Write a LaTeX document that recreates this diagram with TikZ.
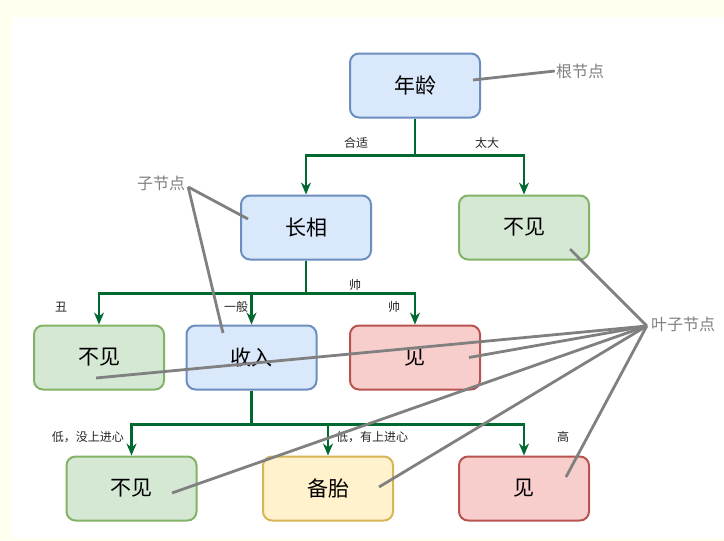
\documentclass[tikz,border=0pt]{standalone}
\usepackage{fontspec}
\setmainfont{Noto Sans CJK SC}
\usepackage{tikz}
\usetikzlibrary{arrows.meta, calc}

\definecolor{bluefill}{HTML}{DAE8FC}
\definecolor{bluedraw}{HTML}{6C8EBF}
\definecolor{greenfill}{HTML}{D5E8D4}
\definecolor{greendraw}{HTML}{82B366}
\definecolor{redfill}{HTML}{F8CECC}
\definecolor{reddraw}{HTML}{B85450}
\definecolor{yellowfill}{HTML}{FFF2CC}
\definecolor{yellowdraw}{HTML}{D6B656}
\definecolor{edgegreen}{HTML}{00692F}
\definecolor{notegray}{HTML}{808080}
\definecolor{cream}{HTML}{FFFFF0}

\tikzset{
    box/.style={draw, line width=2pt, rounded corners=9pt, minimum width=130pt,
        minimum height=64pt, font=\fontsize{21}{24}\selectfont},
    inner/.style={box, fill=bluefill, draw=bluedraw},
    leafno/.style={box, fill=greenfill, draw=greendraw},
    leafyes/.style={box, fill=redfill, draw=reddraw},
    leafmaybe/.style={box, fill=yellowfill, draw=yellowdraw},
    edge/.style={draw=edgegreen, line width=2.2pt,
        -{Stealth[length=12pt, width=10pt, fill=edgegreen]}},
    cond/.style={font=\fontsize{12}{14}\selectfont, text=black!85},
    note/.style={font=\fontsize{16}{18}\selectfont, text=notegray, inner sep=1pt},
    pointer/.style={draw=notegray, line width=2.8pt}
}

\begin{document}
\begin{tikzpicture}[x=1pt, y=-1pt]
    % Page and canvas
    \fill[cream] (0, 0) rectangle (724, 541);
    \fill[white] (12, 17) rectangle (724, 538);
    \useasboundingbox (0, 0) rectangle (724, 541);

    % Tree nodes
    \node[inner] (age) at (415, 85.5) {年龄};
    \node[inner] (look) at (306, 227.5) {长相};
    \node[leafno] (noA) at (524, 227.5) {不见};
    \node[leafno] (noB) at (99, 357.5) {不见};
    \node[inner] (income) at (251.5, 357.5) {收入};
    \node[leafyes] (yesA) at (415, 357.5) {见};
    \node[leafno] (noC) at (131.5, 488.5) {不见};
    \node[leafmaybe] (spare) at (328, 488.5) {备胎};
    \node[leafyes] (yesB) at (524, 488.5) {见};

    % Branches
    \foreach \child in {look, noA} {
        \draw[edge] (age.south) -- ++(0, 37) -| (\child.north);
    }
    \foreach \child in {noB, income, yesA} {
        \draw[edge] (look.south) -- ++(0, 33) -| (\child.north);
    }
    \foreach \child in {noC, spare, yesB} {
        \draw[edge] (income.south) -- ++(0, 34) -| (\child.north);
    }

    % Branch conditions
    \node[cond] (c1) at (356, 143) {合适};
    \node[cond] (c2) at (487, 143) {太大};
    \node[cond] (c3) at (61, 307) {丑};
    \node[cond] (c4) at (236, 307) {一般};
    \node[cond] (c5) at (355, 285) {帅};
    \node[cond] (c6) at (394, 307) {帅};
    \node[cond] (c7) at (88, 437) {低，没上进心};
    \node[cond] (c8) at (372, 437) {低，有上进心};
    \node[cond] (c9) at (563, 437) {高};

    % Notes
    \node[note] (rootnote) at (580, 71) {根节点};
    \node[note] (childnote) at (161, 183) {子节点};
    \node[note] (leafnote) at (683, 324) {叶子节点};

    % Pointers
    \draw[pointer] ($(age.center)+(58, -5.5)$) -- (rootnote.west);
    \coordinate (childtip) at ($(childnote.east)+(2, 4)$);
    \draw[pointer] (childtip) -- ($(look.center)+(-58, -8.5)$);
    \draw[pointer] (childtip) -- ($(income.center)+(-28.5, -24.5)$);
    \coordinate (leaftip) at ($(leafnote.west)+(-3, 2)$);
    \foreach \leaf/\dx/\dy in {noA/46/21.5, yesA/54/0, noB/-3/20.5,
        noC/40.5/4.5, spare/51/-1.5, yesB/42/-11.5} {
        \draw[pointer] (leaftip) -- ($(\leaf.center)+(\dx, \dy)$);
    }
\end{tikzpicture}
\end{document}
